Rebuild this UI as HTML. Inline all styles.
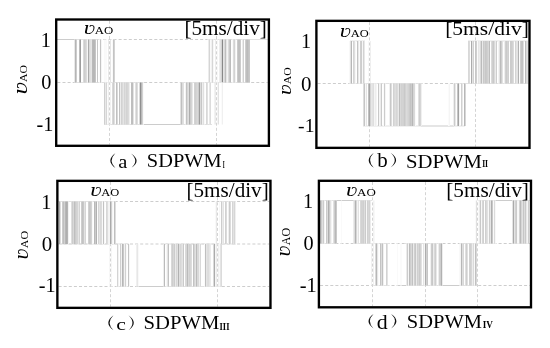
<!DOCTYPE html>
<html><head><meta charset="utf-8"><style>
html,body{margin:0;padding:0;background:#fff;}
svg{display:block;}
text{font-family:"Liberation Serif",serif;fill:#000;}
.it{font-style:italic;}
</style></head><body>
<svg width="550" height="348" viewBox="0 0 550 348" shape-rendering="crispEdges">
<rect width="550" height="348" fill="#fff"/>
<g shape-rendering="auto">
<line x1="57.4" y1="39.5" x2="267.7" y2="39.5" stroke="#cdcdcd" stroke-width="1" stroke-dasharray="3 2.1"/>
<line x1="57.4" y1="82.5" x2="267.7" y2="82.5" stroke="#cdcdcd" stroke-width="1" stroke-dasharray="3 2.1"/>
<line x1="109.5" y1="20.7" x2="109.5" y2="144.6" stroke="#d4d4d4" stroke-width="1" stroke-dasharray="3 2.1"/>
<line x1="216.5" y1="20.7" x2="216.5" y2="144.6" stroke="#d4d4d4" stroke-width="1" stroke-dasharray="3 2.1"/>
<rect x="57" y="39.0" width="18.0" height="1" fill="#cccccc"/>
<rect x="75" y="39.0" width="26.0" height="1" fill="#e2e2e2"/>
<rect x="113" y="39.0" width="1.5" height="1" fill="#e2e2e2"/>
<rect x="207" y="39.0" width="43.0" height="1" fill="#e2e2e2"/>
<rect x="250" y="39.0" width="18.0" height="1" fill="#e2e2e2"/>
<rect x="75" y="82.0" width="69.0" height="1" fill="#e2e2e2"/>
<rect x="181" y="82.0" width="69.0" height="1" fill="#e2e2e2"/>
<rect x="104" y="124.0" width="40.0" height="1" fill="#e2e2e2"/>
<rect x="144" y="124.0" width="37.0" height="1" fill="#cccccc"/>
<rect x="181" y="124.0" width="31.0" height="1" fill="#e2e2e2"/>
<rect x="74" y="39.5" width="1" height="43.0" fill="#e9e9e9"/>
<rect x="75" y="39.5" width="1" height="43.0" fill="#b5b5b5"/>
<rect x="76" y="39.5" width="1" height="43.0" fill="#cdcdcd"/>
<rect x="79" y="39.5" width="1" height="43.0" fill="#bcbcbc"/>
<rect x="80" y="39.5" width="1" height="43.0" fill="#9d9d9d"/>
<rect x="83" y="39.5" width="1" height="43.0" fill="#dbdbdb"/>
<rect x="84" y="39.5" width="1" height="43.0" fill="#cdcdcd"/>
<rect x="85" y="39.5" width="1" height="43.0" fill="#d3d3d3"/>
<rect x="86" y="39.5" width="1" height="43.0" fill="#dcdcdc"/>
<rect x="87" y="39.5" width="1" height="43.0" fill="#f6f6f6"/>
<rect x="88" y="39.5" width="1" height="43.0" fill="#aaaaaa"/>
<rect x="89" y="39.5" width="1" height="43.0" fill="#d9d9d9"/>
<rect x="90" y="39.5" width="1" height="43.0" fill="#e1e1e1"/>
<rect x="91" y="39.5" width="1" height="43.0" fill="#e5e5e5"/>
<rect x="92" y="39.5" width="1" height="43.0" fill="#bababa"/>
<rect x="93" y="39.5" width="1" height="43.0" fill="#b7b7b7"/>
<rect x="94" y="39.5" width="1" height="43.0" fill="#b8b8b8"/>
<rect x="95" y="39.5" width="1" height="43.0" fill="#c6c6c6"/>
<rect x="97" y="39.5" width="1" height="43.0" fill="#c7c7c7"/>
<rect x="99" y="39.5" width="1" height="43.0" fill="#fbfbfb"/>
<rect x="100" y="39.5" width="1" height="43.0" fill="#c4c4c4"/>
<rect x="101" y="39.5" width="1" height="43.0" fill="#f5f5f5"/>
<rect x="104" y="39.5" width="1" height="43.0" fill="#f9f9f9"/>
<rect x="105" y="39.5" width="2" height="43.0" fill="#fafafa"/>
<rect x="108" y="39.5" width="1" height="43.0" fill="#eaeaea"/>
<rect x="110" y="39.5" width="1" height="43.0" fill="#e6e6e6"/>
<rect x="112" y="39.5" width="1" height="43.0" fill="#fafafa"/>
<rect x="113" y="39.5" width="1" height="43.0" fill="#c4c4c4"/>
<rect x="114" y="39.5" width="1" height="43.0" fill="#d3d3d3"/>
<rect x="208" y="39.5" width="1" height="43.0" fill="#ececec"/>
<rect x="209" y="39.5" width="1" height="43.0" fill="#d5d5d5"/>
<rect x="210" y="39.5" width="1" height="43.0" fill="#fafafa"/>
<rect x="211" y="39.5" width="1" height="43.0" fill="#f1f1f1"/>
<rect x="212" y="39.5" width="1" height="43.0" fill="#d6d6d6"/>
<rect x="213" y="39.5" width="1" height="43.0" fill="#f7f7f7"/>
<rect x="215" y="39.5" width="1" height="43.0" fill="#ededed"/>
<rect x="217" y="39.5" width="1" height="43.0" fill="#f7f7f7"/>
<rect x="219" y="39.5" width="1" height="43.0" fill="#ececec"/>
<rect x="220" y="39.5" width="1" height="43.0" fill="#e3e3e3"/>
<rect x="221" y="39.5" width="1" height="43.0" fill="#d4d4d4"/>
<rect x="222" y="39.5" width="1" height="43.0" fill="#898989"/>
<rect x="223" y="39.5" width="1" height="43.0" fill="#e4e4e4"/>
<rect x="224" y="39.5" width="1" height="43.0" fill="#dadada"/>
<rect x="225" y="39.5" width="1" height="43.0" fill="#bfbfbf"/>
<rect x="226" y="39.5" width="1" height="43.0" fill="#e7e7e7"/>
<rect x="227" y="39.5" width="1" height="43.0" fill="#f5f5f5"/>
<rect x="228" y="39.5" width="1" height="43.0" fill="#dcdcdc"/>
<rect x="229" y="39.5" width="1" height="43.0" fill="#c9c9c9"/>
<rect x="230" y="39.5" width="1" height="43.0" fill="#bdbdbd"/>
<rect x="232" y="39.5" width="1" height="43.0" fill="#fbfbfb"/>
<rect x="233" y="39.5" width="1" height="43.0" fill="#dddddd"/>
<rect x="234" y="39.5" width="1" height="43.0" fill="#d3d3d3"/>
<rect x="235" y="39.5" width="1" height="43.0" fill="#f3f3f3"/>
<rect x="237" y="39.5" width="1" height="43.0" fill="#cccccc"/>
<rect x="238" y="39.5" width="1" height="43.0" fill="#c0c0c0"/>
<rect x="239" y="39.5" width="1" height="43.0" fill="#c0c0c0"/>
<rect x="240" y="39.5" width="1" height="43.0" fill="#cccccc"/>
<rect x="242" y="39.5" width="1" height="43.0" fill="#ececec"/>
<rect x="243" y="39.5" width="1" height="43.0" fill="#d2d2d2"/>
<rect x="245" y="39.5" width="1" height="43.0" fill="#cfcfcf"/>
<rect x="246" y="39.5" width="1" height="43.0" fill="#bfbfbf"/>
<rect x="247" y="39.5" width="1" height="43.0" fill="#bbbbbb"/>
<rect x="248" y="39.5" width="1" height="43.0" fill="#c3c3c3"/>
<rect x="249" y="39.5" width="1" height="43.0" fill="#c7c7c7"/>
<rect x="104" y="82.5" width="1" height="42.0" fill="#cfcfcf"/>
<rect x="105" y="82.5" width="1" height="42.0" fill="#e8e8e8"/>
<rect x="106" y="82.5" width="1" height="42.0" fill="#d6d6d6"/>
<rect x="107" y="82.5" width="1" height="42.0" fill="#fbfbfb"/>
<rect x="108" y="82.5" width="1" height="42.0" fill="#efefef"/>
<rect x="110" y="82.5" width="1" height="42.0" fill="#f2f2f2"/>
<rect x="112" y="82.5" width="1" height="42.0" fill="#d9d9d9"/>
<rect x="113" y="82.5" width="1" height="42.0" fill="#cdcdcd"/>
<rect x="114" y="82.5" width="1" height="42.0" fill="#e1e1e1"/>
<rect x="116" y="82.5" width="1" height="42.0" fill="#c0c0c0"/>
<rect x="117" y="82.5" width="1" height="42.0" fill="#d9d9d9"/>
<rect x="119" y="82.5" width="1" height="42.0" fill="#c2c2c2"/>
<rect x="120" y="82.5" width="1" height="42.0" fill="#ededed"/>
<rect x="121" y="82.5" width="1" height="42.0" fill="#d2d2d2"/>
<rect x="122" y="82.5" width="1" height="42.0" fill="#dadada"/>
<rect x="123" y="82.5" width="1" height="42.0" fill="#e5e5e5"/>
<rect x="124" y="82.5" width="1" height="42.0" fill="#d5d5d5"/>
<rect x="125" y="82.5" width="1" height="42.0" fill="#dddddd"/>
<rect x="126" y="82.5" width="1" height="42.0" fill="#d3d3d3"/>
<rect x="127" y="82.5" width="1" height="42.0" fill="#d6d6d6"/>
<rect x="128" y="82.5" width="1" height="42.0" fill="#dbdbdb"/>
<rect x="129" y="82.5" width="1" height="42.0" fill="#eeeeee"/>
<rect x="131" y="82.5" width="1" height="42.0" fill="#bebebe"/>
<rect x="132" y="82.5" width="1" height="42.0" fill="#bdbdbd"/>
<rect x="133" y="82.5" width="1" height="42.0" fill="#e3e3e3"/>
<rect x="135" y="82.5" width="1" height="42.0" fill="#e2e2e2"/>
<rect x="136" y="82.5" width="1" height="42.0" fill="#cfcfcf"/>
<rect x="137" y="82.5" width="1" height="42.0" fill="#dedede"/>
<rect x="139" y="82.5" width="1" height="42.0" fill="#dadada"/>
<rect x="140" y="82.5" width="1" height="42.0" fill="#909090"/>
<rect x="141" y="82.5" width="1" height="42.0" fill="#b9b9b9"/>
<rect x="142" y="82.5" width="1" height="42.0" fill="#d2d2d2"/>
<rect x="143" y="82.5" width="1" height="42.0" fill="#fafafa"/>
<rect x="180" y="82.5" width="1" height="42.0" fill="#e1e1e1"/>
<rect x="181" y="82.5" width="1" height="42.0" fill="#bfbfbf"/>
<rect x="182" y="82.5" width="1" height="42.0" fill="#dcdcdc"/>
<rect x="183" y="82.5" width="1" height="42.0" fill="#e1e1e1"/>
<rect x="185" y="82.5" width="1" height="42.0" fill="#f4f4f4"/>
<rect x="186" y="82.5" width="1" height="42.0" fill="#c2c2c2"/>
<rect x="187" y="82.5" width="1" height="42.0" fill="#d6d6d6"/>
<rect x="188" y="82.5" width="1" height="42.0" fill="#dedede"/>
<rect x="189" y="82.5" width="1" height="42.0" fill="#adadad"/>
<rect x="190" y="82.5" width="1" height="42.0" fill="#cccccc"/>
<rect x="191" y="82.5" width="1" height="42.0" fill="#d5d5d5"/>
<rect x="192" y="82.5" width="1" height="42.0" fill="#e8e8e8"/>
<rect x="194" y="82.5" width="1" height="42.0" fill="#d3d3d3"/>
<rect x="195" y="82.5" width="1" height="42.0" fill="#cfcfcf"/>
<rect x="196" y="82.5" width="1" height="42.0" fill="#d4d4d4"/>
<rect x="197" y="82.5" width="1" height="42.0" fill="#d8d8d8"/>
<rect x="198" y="82.5" width="1" height="42.0" fill="#cccccc"/>
<rect x="199" y="82.5" width="1" height="42.0" fill="#9d9d9d"/>
<rect x="200" y="82.5" width="1" height="42.0" fill="#dbdbdb"/>
<rect x="201" y="82.5" width="1" height="42.0" fill="#c6c6c6"/>
<rect x="202" y="82.5" width="1" height="42.0" fill="#eeeeee"/>
<rect x="203" y="82.5" width="1" height="42.0" fill="#e0e0e0"/>
<rect x="204" y="82.5" width="1" height="42.0" fill="#f9f9f9"/>
<rect x="206" y="82.5" width="1" height="42.0" fill="#d8d8d8"/>
<rect x="207" y="82.5" width="1" height="42.0" fill="#e1e1e1"/>
<rect x="209" y="82.5" width="1" height="42.0" fill="#e8e8e8"/>
<rect x="210" y="82.5" width="1" height="42.0" fill="#dcdcdc"/>
<rect x="214" y="82.5" width="1" height="42.0" fill="#f2f2f2"/>
<rect x="215" y="82.5" width="1" height="42.0" fill="#ebebeb"/>
<rect x="217" y="82.5" width="1" height="42.0" fill="#f4f4f4"/>
<rect x="218" y="82.5" width="1" height="42.0" fill="#e2e2e2"/>
<rect x="221" y="82.5" width="1" height="42.0" fill="#fbfbfb"/>
<rect x="222" y="82.5" width="1" height="42.0" fill="#f0f0f0"/>
<rect x="56.2" y="19.5" width="212.7" height="126.3" fill="none" stroke="#000" stroke-width="2.35"/>
<line x1="317.6" y1="83.5" x2="528.2" y2="83.5" stroke="#cdcdcd" stroke-width="1" stroke-dasharray="3 2.1"/>
<line x1="369.5" y1="22.1" x2="369.5" y2="146.7" stroke="#d4d4d4" stroke-width="1" stroke-dasharray="3 2.1"/>
<line x1="475.5" y1="22.1" x2="475.5" y2="146.7" stroke="#d4d4d4" stroke-width="1" stroke-dasharray="3 2.1"/>
<rect x="350" y="40.5" width="15.0" height="1" fill="#e2e2e2"/>
<rect x="468" y="40.5" width="60.0" height="1" fill="#e2e2e2"/>
<rect x="350" y="83.0" width="71.0" height="1" fill="#e2e2e2"/>
<rect x="454" y="83.0" width="74.0" height="1" fill="#e2e2e2"/>
<rect x="363" y="125.5" width="58.0" height="1" fill="#e2e2e2"/>
<rect x="421" y="125.5" width="33.0" height="1" fill="#cccccc"/>
<rect x="454" y="125.5" width="11.0" height="1" fill="#e2e2e2"/>
<rect x="349" y="41.0" width="1" height="42.5" fill="#f8f8f8"/>
<rect x="350" y="41.0" width="1" height="42.5" fill="#e1e1e1"/>
<rect x="351" y="41.0" width="1" height="42.5" fill="#b7b7b7"/>
<rect x="353" y="41.0" width="1" height="42.5" fill="#d4d4d4"/>
<rect x="354" y="41.0" width="1" height="42.5" fill="#dfdfdf"/>
<rect x="355" y="41.0" width="1" height="42.5" fill="#f7f7f7"/>
<rect x="357" y="41.0" width="1" height="42.5" fill="#c3c3c3"/>
<rect x="358" y="41.0" width="1" height="42.5" fill="#e8e8e8"/>
<rect x="359" y="41.0" width="1" height="42.5" fill="#fafafa"/>
<rect x="360" y="41.0" width="1" height="42.5" fill="#d0d0d0"/>
<rect x="361" y="41.0" width="1" height="42.5" fill="#cdcdcd"/>
<rect x="362" y="41.0" width="1" height="42.5" fill="#f7f7f7"/>
<rect x="363" y="41.0" width="1" height="42.5" fill="#d2d2d2"/>
<rect x="364" y="41.0" width="1" height="42.5" fill="#e8e8e8"/>
<rect x="368" y="41.0" width="1" height="42.5" fill="#f8f8f8"/>
<rect x="370" y="41.0" width="1" height="42.5" fill="#efefef"/>
<rect x="468" y="41.0" width="1" height="42.5" fill="#d8d8d8"/>
<rect x="469" y="41.0" width="1" height="42.5" fill="#dbdbdb"/>
<rect x="471" y="41.0" width="1" height="42.5" fill="#ababab"/>
<rect x="472" y="41.0" width="1" height="42.5" fill="#e3e3e3"/>
<rect x="473" y="41.0" width="1" height="42.5" fill="#d2d2d2"/>
<rect x="475" y="41.0" width="1" height="42.5" fill="#c7c7c7"/>
<rect x="476" y="41.0" width="1" height="42.5" fill="#cfcfcf"/>
<rect x="477" y="41.0" width="1" height="42.5" fill="#fbfbfb"/>
<rect x="478" y="41.0" width="1" height="42.5" fill="#e5e5e5"/>
<rect x="479" y="41.0" width="1" height="42.5" fill="#ececec"/>
<rect x="480" y="41.0" width="1" height="42.5" fill="#dbdbdb"/>
<rect x="481" y="41.0" width="1" height="42.5" fill="#bbbbbb"/>
<rect x="482" y="41.0" width="1" height="42.5" fill="#eaeaea"/>
<rect x="483" y="41.0" width="1" height="42.5" fill="#c9c9c9"/>
<rect x="484" y="41.0" width="1" height="42.5" fill="#d3d3d3"/>
<rect x="485" y="41.0" width="1" height="42.5" fill="#c8c8c8"/>
<rect x="486" y="41.0" width="1" height="42.5" fill="#cbcbcb"/>
<rect x="487" y="41.0" width="1" height="42.5" fill="#d0d0d0"/>
<rect x="488" y="41.0" width="1" height="42.5" fill="#d8d8d8"/>
<rect x="489" y="41.0" width="1" height="42.5" fill="#bdbdbd"/>
<rect x="491" y="41.0" width="1" height="42.5" fill="#dbdbdb"/>
<rect x="492" y="41.0" width="1" height="42.5" fill="#cfcfcf"/>
<rect x="493" y="41.0" width="1" height="42.5" fill="#c9c9c9"/>
<rect x="494" y="41.0" width="1" height="42.5" fill="#dbdbdb"/>
<rect x="495" y="41.0" width="1" height="42.5" fill="#ebebeb"/>
<rect x="496" y="41.0" width="1" height="42.5" fill="#cecece"/>
<rect x="498" y="41.0" width="1" height="42.5" fill="#f4f4f4"/>
<rect x="499" y="41.0" width="1" height="42.5" fill="#e2e2e2"/>
<rect x="500" y="41.0" width="1" height="42.5" fill="#bbbbbb"/>
<rect x="501" y="41.0" width="1" height="42.5" fill="#cecece"/>
<rect x="502" y="41.0" width="1" height="42.5" fill="#e2e2e2"/>
<rect x="504" y="41.0" width="1" height="42.5" fill="#efefef"/>
<rect x="505" y="41.0" width="1" height="42.5" fill="#d1d1d1"/>
<rect x="506" y="41.0" width="1" height="42.5" fill="#cacaca"/>
<rect x="507" y="41.0" width="1" height="42.5" fill="#d3d3d3"/>
<rect x="508" y="41.0" width="1" height="42.5" fill="#d0d0d0"/>
<rect x="510" y="41.0" width="1" height="42.5" fill="#cccccc"/>
<rect x="511" y="41.0" width="1" height="42.5" fill="#cdcdcd"/>
<rect x="512" y="41.0" width="1" height="42.5" fill="#d2d2d2"/>
<rect x="513" y="41.0" width="1" height="42.5" fill="#dcdcdc"/>
<rect x="515" y="41.0" width="1" height="42.5" fill="#d4d4d4"/>
<rect x="516" y="41.0" width="1" height="42.5" fill="#e3e3e3"/>
<rect x="517" y="41.0" width="1" height="42.5" fill="#e4e4e4"/>
<rect x="518" y="41.0" width="1" height="42.5" fill="#b2b2b2"/>
<rect x="519" y="41.0" width="1" height="42.5" fill="#fcfcfc"/>
<rect x="520" y="41.0" width="1" height="42.5" fill="#cfcfcf"/>
<rect x="521" y="41.0" width="1" height="42.5" fill="#c4c4c4"/>
<rect x="522" y="41.0" width="1" height="42.5" fill="#c3c3c3"/>
<rect x="523" y="41.0" width="1" height="42.5" fill="#dfdfdf"/>
<rect x="525" y="41.0" width="1" height="42.5" fill="#bcbcbc"/>
<rect x="526" y="41.0" width="1" height="42.5" fill="#dadada"/>
<rect x="527" y="41.0" width="1" height="42.5" fill="#dfdfdf"/>
<rect x="363" y="83.5" width="1" height="42.5" fill="#dfdfdf"/>
<rect x="364" y="83.5" width="1" height="42.5" fill="#c5c5c5"/>
<rect x="365" y="83.5" width="1" height="42.5" fill="#f8f8f8"/>
<rect x="366" y="83.5" width="1" height="42.5" fill="#e4e4e4"/>
<rect x="368" y="83.5" width="1" height="42.5" fill="#c0c0c0"/>
<rect x="369" y="83.5" width="1" height="42.5" fill="#a7a7a7"/>
<rect x="370" y="83.5" width="1" height="42.5" fill="#d4d4d4"/>
<rect x="371" y="83.5" width="1" height="42.5" fill="#e7e7e7"/>
<rect x="372" y="83.5" width="1" height="42.5" fill="#e3e3e3"/>
<rect x="373" y="83.5" width="1" height="42.5" fill="#dedede"/>
<rect x="374" y="83.5" width="1" height="42.5" fill="#f5f5f5"/>
<rect x="375" y="83.5" width="1" height="42.5" fill="#ededed"/>
<rect x="376" y="83.5" width="1" height="42.5" fill="#f5f5f5"/>
<rect x="378" y="83.5" width="1" height="42.5" fill="#c9c9c9"/>
<rect x="379" y="83.5" width="1" height="42.5" fill="#f5f5f5"/>
<rect x="380" y="83.5" width="1" height="42.5" fill="#ececec"/>
<rect x="381" y="83.5" width="1" height="42.5" fill="#cacaca"/>
<rect x="383" y="83.5" width="1" height="42.5" fill="#fbfbfb"/>
<rect x="384" y="83.5" width="1" height="42.5" fill="#cccccc"/>
<rect x="385" y="83.5" width="1" height="42.5" fill="#f5f5f5"/>
<rect x="389" y="83.5" width="1" height="42.5" fill="#f0f0f0"/>
<rect x="390" y="83.5" width="1" height="42.5" fill="#c8c8c8"/>
<rect x="391" y="83.5" width="1" height="42.5" fill="#dedede"/>
<rect x="392" y="83.5" width="1" height="42.5" fill="#fcfcfc"/>
<rect x="393" y="83.5" width="1" height="42.5" fill="#d2d2d2"/>
<rect x="394" y="83.5" width="1" height="42.5" fill="#dadada"/>
<rect x="395" y="83.5" width="1" height="42.5" fill="#dedede"/>
<rect x="396" y="83.5" width="1" height="42.5" fill="#d6d6d6"/>
<rect x="397" y="83.5" width="1" height="42.5" fill="#dbdbdb"/>
<rect x="398" y="83.5" width="1" height="42.5" fill="#e9e9e9"/>
<rect x="399" y="83.5" width="1" height="42.5" fill="#bdbdbd"/>
<rect x="400" y="83.5" width="1" height="42.5" fill="#d9d9d9"/>
<rect x="401" y="83.5" width="1" height="42.5" fill="#d1d1d1"/>
<rect x="402" y="83.5" width="1" height="42.5" fill="#d3d3d3"/>
<rect x="403" y="83.5" width="1" height="42.5" fill="#d1d1d1"/>
<rect x="404" y="83.5" width="1" height="42.5" fill="#c9c9c9"/>
<rect x="405" y="83.5" width="1" height="42.5" fill="#d2d2d2"/>
<rect x="406" y="83.5" width="1" height="42.5" fill="#dbdbdb"/>
<rect x="407" y="83.5" width="1" height="42.5" fill="#d7d7d7"/>
<rect x="408" y="83.5" width="1" height="42.5" fill="#d3d3d3"/>
<rect x="409" y="83.5" width="1" height="42.5" fill="#cccccc"/>
<rect x="410" y="83.5" width="1" height="42.5" fill="#c3c3c3"/>
<rect x="411" y="83.5" width="1" height="42.5" fill="#cbcbcb"/>
<rect x="412" y="83.5" width="1" height="42.5" fill="#b6b6b6"/>
<rect x="413" y="83.5" width="1" height="42.5" fill="#d5d5d5"/>
<rect x="414" y="83.5" width="1" height="42.5" fill="#d9d9d9"/>
<rect x="415" y="83.5" width="1" height="42.5" fill="#fafafa"/>
<rect x="418" y="83.5" width="1" height="42.5" fill="#e1e1e1"/>
<rect x="419" y="83.5" width="1" height="42.5" fill="#cecece"/>
<rect x="420" y="83.5" width="1" height="42.5" fill="#d6d6d6"/>
<rect x="421" y="83.5" width="1" height="42.5" fill="#f0f0f0"/>
<rect x="448" y="83.5" width="1" height="42.5" fill="#fbfbfb"/>
<rect x="449" y="83.5" width="1" height="42.5" fill="#f5f5f5"/>
<rect x="453" y="83.5" width="1" height="42.5" fill="#efefef"/>
<rect x="454" y="83.5" width="1" height="42.5" fill="#cccccc"/>
<rect x="455" y="83.5" width="1" height="42.5" fill="#e9e9e9"/>
<rect x="457" y="83.5" width="1" height="42.5" fill="#c6c6c6"/>
<rect x="458" y="83.5" width="1" height="42.5" fill="#a3a3a3"/>
<rect x="459" y="83.5" width="1" height="42.5" fill="#f4f4f4"/>
<rect x="461" y="83.5" width="1" height="42.5" fill="#d0d0d0"/>
<rect x="462" y="83.5" width="1" height="42.5" fill="#e7e7e7"/>
<rect x="464" y="83.5" width="1" height="42.5" fill="#b7b7b7"/>
<rect x="465" y="83.5" width="1" height="42.5" fill="#d7d7d7"/>
<rect x="316.4" y="20.85" width="213.1" height="127.0" fill="none" stroke="#000" stroke-width="2.35"/>
<line x1="58.6" y1="201.5" x2="269.3" y2="201.5" stroke="#cdcdcd" stroke-width="1" stroke-dasharray="3 2.1"/>
<line x1="58.6" y1="244.0" x2="269.3" y2="244.0" stroke="#cdcdcd" stroke-width="1" stroke-dasharray="3 2.1"/>
<line x1="58.6" y1="286.5" x2="269.3" y2="286.5" stroke="#cdcdcd" stroke-width="1" stroke-dasharray="3 2.1"/>
<line x1="110.5" y1="182.0" x2="110.5" y2="306.7" stroke="#d4d4d4" stroke-width="1" stroke-dasharray="3 2.1"/>
<line x1="217.5" y1="182.0" x2="217.5" y2="306.7" stroke="#d4d4d4" stroke-width="1" stroke-dasharray="3 2.1"/>
<rect x="58" y="201.0" width="58.0" height="1" fill="#e2e2e2"/>
<rect x="220" y="201.0" width="16.0" height="1" fill="#e2e2e2"/>
<rect x="58" y="243.5" width="71.0" height="1" fill="#e2e2e2"/>
<rect x="163" y="243.5" width="73.0" height="1" fill="#e2e2e2"/>
<rect x="116" y="286.0" width="13.0" height="1" fill="#e2e2e2"/>
<rect x="137" y="286.0" width="27.0" height="1" fill="#cccccc"/>
<rect x="164" y="286.0" width="58.0" height="1" fill="#e2e2e2"/>
<rect x="59" y="201.5" width="1" height="42.5" fill="#acacac"/>
<rect x="60" y="201.5" width="1" height="42.5" fill="#dddddd"/>
<rect x="62" y="201.5" width="1" height="42.5" fill="#cdcdcd"/>
<rect x="63" y="201.5" width="1" height="42.5" fill="#c0c0c0"/>
<rect x="64" y="201.5" width="1" height="42.5" fill="#d0d0d0"/>
<rect x="65" y="201.5" width="1" height="42.5" fill="#b7b7b7"/>
<rect x="66" y="201.5" width="1" height="42.5" fill="#aeaeae"/>
<rect x="67" y="201.5" width="1" height="42.5" fill="#b5b5b5"/>
<rect x="68" y="201.5" width="1" height="42.5" fill="#f3f3f3"/>
<rect x="71" y="201.5" width="1" height="42.5" fill="#dfdfdf"/>
<rect x="72" y="201.5" width="1" height="42.5" fill="#cccccc"/>
<rect x="73" y="201.5" width="1" height="42.5" fill="#d8d8d8"/>
<rect x="74" y="201.5" width="1" height="42.5" fill="#bebebe"/>
<rect x="75" y="201.5" width="1" height="42.5" fill="#cccccc"/>
<rect x="76" y="201.5" width="1" height="42.5" fill="#d3d3d3"/>
<rect x="77" y="201.5" width="1" height="42.5" fill="#d5d5d5"/>
<rect x="78" y="201.5" width="1" height="42.5" fill="#e6e6e6"/>
<rect x="79" y="201.5" width="1" height="42.5" fill="#d4d4d4"/>
<rect x="81" y="201.5" width="1" height="42.5" fill="#cecece"/>
<rect x="82" y="201.5" width="1" height="42.5" fill="#c2c2c2"/>
<rect x="83" y="201.5" width="1" height="42.5" fill="#c8c8c8"/>
<rect x="84" y="201.5" width="1" height="42.5" fill="#e3e3e3"/>
<rect x="85" y="201.5" width="1" height="42.5" fill="#d6d6d6"/>
<rect x="88" y="201.5" width="1" height="42.5" fill="#d1d1d1"/>
<rect x="89" y="201.5" width="1" height="42.5" fill="#c6c6c6"/>
<rect x="90" y="201.5" width="1" height="42.5" fill="#cacaca"/>
<rect x="91" y="201.5" width="1" height="42.5" fill="#d4d4d4"/>
<rect x="92" y="201.5" width="1" height="42.5" fill="#f9f9f9"/>
<rect x="94" y="201.5" width="1" height="42.5" fill="#b9b9b9"/>
<rect x="95" y="201.5" width="1" height="42.5" fill="#cbcbcb"/>
<rect x="96" y="201.5" width="1" height="42.5" fill="#b1b1b1"/>
<rect x="97" y="201.5" width="1" height="42.5" fill="#fcfcfc"/>
<rect x="98" y="201.5" width="1" height="42.5" fill="#d5d5d5"/>
<rect x="99" y="201.5" width="1" height="42.5" fill="#e4e4e4"/>
<rect x="100" y="201.5" width="1" height="42.5" fill="#d9d9d9"/>
<rect x="101" y="201.5" width="1" height="42.5" fill="#dcdcdc"/>
<rect x="102" y="201.5" width="1" height="42.5" fill="#f9f9f9"/>
<rect x="103" y="201.5" width="1" height="42.5" fill="#c3c3c3"/>
<rect x="104" y="201.5" width="1" height="42.5" fill="#f8f8f8"/>
<rect x="106" y="201.5" width="1" height="42.5" fill="#d7d7d7"/>
<rect x="107" y="201.5" width="1" height="42.5" fill="#dedede"/>
<rect x="108" y="201.5" width="1" height="42.5" fill="#f3f3f3"/>
<rect x="109" y="201.5" width="1" height="42.5" fill="#f4f4f4"/>
<rect x="110" y="201.5" width="1" height="42.5" fill="#aaaaaa"/>
<rect x="111" y="201.5" width="1" height="42.5" fill="#d0d0d0"/>
<rect x="112" y="201.5" width="1" height="42.5" fill="#f5f5f5"/>
<rect x="113" y="201.5" width="1" height="42.5" fill="#fcfcfc"/>
<rect x="114" y="201.5" width="1" height="42.5" fill="#bfbfbf"/>
<rect x="115" y="201.5" width="1" height="42.5" fill="#dedede"/>
<rect x="215" y="201.5" width="1" height="42.5" fill="#f9f9f9"/>
<rect x="216" y="201.5" width="1" height="42.5" fill="#e8e8e8"/>
<rect x="219" y="201.5" width="1" height="42.5" fill="#f7f7f7"/>
<rect x="221" y="201.5" width="1" height="42.5" fill="#cdcdcd"/>
<rect x="222" y="201.5" width="1" height="42.5" fill="#ebebeb"/>
<rect x="223" y="201.5" width="1" height="42.5" fill="#e4e4e4"/>
<rect x="225" y="201.5" width="1" height="42.5" fill="#d1d1d1"/>
<rect x="226" y="201.5" width="1" height="42.5" fill="#dcdcdc"/>
<rect x="228" y="201.5" width="1" height="42.5" fill="#efefef"/>
<rect x="229" y="201.5" width="1" height="42.5" fill="#cbcbcb"/>
<rect x="230" y="201.5" width="1" height="42.5" fill="#dcdcdc"/>
<rect x="232" y="201.5" width="1" height="42.5" fill="#d5d5d5"/>
<rect x="233" y="201.5" width="1" height="42.5" fill="#e3e3e3"/>
<rect x="234" y="201.5" width="1" height="42.5" fill="#d6d6d6"/>
<rect x="235" y="201.5" width="1" height="42.5" fill="#f0f0f0"/>
<rect x="109" y="244.0" width="1" height="42.5" fill="#f7f7f7"/>
<rect x="111" y="244.0" width="1" height="42.5" fill="#f7f7f7"/>
<rect x="117" y="244.0" width="1" height="42.5" fill="#d4d4d4"/>
<rect x="118" y="244.0" width="1" height="42.5" fill="#f2f2f2"/>
<rect x="120" y="244.0" width="1" height="42.5" fill="#d0d0d0"/>
<rect x="121" y="244.0" width="1" height="42.5" fill="#f2f2f2"/>
<rect x="122" y="244.0" width="1" height="42.5" fill="#b6b6b6"/>
<rect x="123" y="244.0" width="1" height="42.5" fill="#c9c9c9"/>
<rect x="124" y="244.0" width="1" height="42.5" fill="#f2f2f2"/>
<rect x="125" y="244.0" width="1" height="42.5" fill="#d1d1d1"/>
<rect x="126" y="244.0" width="1" height="42.5" fill="#f9f9f9"/>
<rect x="128" y="244.0" width="1" height="42.5" fill="#c4c4c4"/>
<rect x="129" y="244.0" width="1" height="42.5" fill="#f6f6f6"/>
<rect x="136" y="244.0" width="1" height="42.5" fill="#f0f0f0"/>
<rect x="137" y="244.0" width="1" height="42.5" fill="#e7e7e7"/>
<rect x="138" y="244.0" width="1" height="42.5" fill="#f9f9f9"/>
<rect x="163" y="244.0" width="1" height="42.5" fill="#eeeeee"/>
<rect x="164" y="244.0" width="1" height="42.5" fill="#bbbbbb"/>
<rect x="166" y="244.0" width="1" height="42.5" fill="#f7f7f7"/>
<rect x="167" y="244.0" width="1" height="42.5" fill="#e3e3e3"/>
<rect x="168" y="244.0" width="1" height="42.5" fill="#c2c2c2"/>
<rect x="171" y="244.0" width="1" height="42.5" fill="#d9d9d9"/>
<rect x="172" y="244.0" width="1" height="42.5" fill="#cecece"/>
<rect x="173" y="244.0" width="1" height="42.5" fill="#d7d7d7"/>
<rect x="174" y="244.0" width="1" height="42.5" fill="#cccccc"/>
<rect x="175" y="244.0" width="1" height="42.5" fill="#eaeaea"/>
<rect x="176" y="244.0" width="1" height="42.5" fill="#d7d7d7"/>
<rect x="177" y="244.0" width="1" height="42.5" fill="#e1e1e1"/>
<rect x="178" y="244.0" width="1" height="42.5" fill="#b2b2b2"/>
<rect x="179" y="244.0" width="1" height="42.5" fill="#dfdfdf"/>
<rect x="180" y="244.0" width="1" height="42.5" fill="#d7d7d7"/>
<rect x="181" y="244.0" width="1" height="42.5" fill="#dedede"/>
<rect x="182" y="244.0" width="1" height="42.5" fill="#e4e4e4"/>
<rect x="183" y="244.0" width="1" height="42.5" fill="#cacaca"/>
<rect x="185" y="244.0" width="1" height="42.5" fill="#dadada"/>
<rect x="186" y="244.0" width="1" height="42.5" fill="#d6d6d6"/>
<rect x="187" y="244.0" width="1" height="42.5" fill="#bbbbbb"/>
<rect x="188" y="244.0" width="1" height="42.5" fill="#d8d8d8"/>
<rect x="189" y="244.0" width="1" height="42.5" fill="#d0d0d0"/>
<rect x="190" y="244.0" width="1" height="42.5" fill="#d6d6d6"/>
<rect x="191" y="244.0" width="1" height="42.5" fill="#dddddd"/>
<rect x="193" y="244.0" width="1" height="42.5" fill="#c3c3c3"/>
<rect x="194" y="244.0" width="1" height="42.5" fill="#d5d5d5"/>
<rect x="195" y="244.0" width="1" height="42.5" fill="#e1e1e1"/>
<rect x="196" y="244.0" width="1" height="42.5" fill="#bbbbbb"/>
<rect x="197" y="244.0" width="1" height="42.5" fill="#d9d9d9"/>
<rect x="198" y="244.0" width="1" height="42.5" fill="#d9d9d9"/>
<rect x="199" y="244.0" width="1" height="42.5" fill="#f0f0f0"/>
<rect x="200" y="244.0" width="1" height="42.5" fill="#d9d9d9"/>
<rect x="204" y="244.0" width="1" height="42.5" fill="#fbfbfb"/>
<rect x="205" y="244.0" width="1" height="42.5" fill="#bfbfbf"/>
<rect x="206" y="244.0" width="1" height="42.5" fill="#e5e5e5"/>
<rect x="207" y="244.0" width="1" height="42.5" fill="#dedede"/>
<rect x="208" y="244.0" width="1" height="42.5" fill="#dddddd"/>
<rect x="209" y="244.0" width="1" height="42.5" fill="#e6e6e6"/>
<rect x="210" y="244.0" width="1" height="42.5" fill="#ececec"/>
<rect x="213" y="244.0" width="1" height="42.5" fill="#dbdbdb"/>
<rect x="214" y="244.0" width="1" height="42.5" fill="#ababab"/>
<rect x="215" y="244.0" width="1" height="42.5" fill="#f5f5f5"/>
<rect x="216" y="244.0" width="1" height="42.5" fill="#ececec"/>
<rect x="218" y="244.0" width="1" height="42.5" fill="#f0f0f0"/>
<rect x="219" y="244.0" width="1" height="42.5" fill="#f8f8f8"/>
<rect x="220" y="244.0" width="1" height="42.5" fill="#e4e4e4"/>
<rect x="221" y="244.0" width="1" height="42.5" fill="#dbdbdb"/>
<rect x="57.37" y="180.85" width="213.1" height="127.0" fill="none" stroke="#000" stroke-width="2.35"/>
<line x1="320.1" y1="243.5" x2="529.8" y2="243.5" stroke="#cdcdcd" stroke-width="1" stroke-dasharray="3 2.1"/>
<line x1="320.1" y1="285.5" x2="529.8" y2="285.5" stroke="#cdcdcd" stroke-width="1" stroke-dasharray="3 2.1"/>
<line x1="372.5" y1="182.0" x2="372.5" y2="306.1" stroke="#d4d4d4" stroke-width="1" stroke-dasharray="3 2.1"/>
<line x1="425.5" y1="182.0" x2="425.5" y2="306.1" stroke="#d4d4d4" stroke-width="1" stroke-dasharray="3 2.1"/>
<line x1="477.5" y1="182.0" x2="477.5" y2="306.1" stroke="#d4d4d4" stroke-width="1" stroke-dasharray="3 2.1"/>
<rect x="320" y="200.0" width="17.0" height="1" fill="#e2e2e2"/>
<rect x="337" y="200.0" width="17.0" height="1" fill="#cccccc"/>
<rect x="354" y="200.0" width="18.0" height="1" fill="#e2e2e2"/>
<rect x="478" y="200.0" width="17.0" height="1" fill="#e2e2e2"/>
<rect x="495" y="200.0" width="17.0" height="1" fill="#cccccc"/>
<rect x="512" y="200.0" width="18.0" height="1" fill="#e2e2e2"/>
<rect x="320" y="243.0" width="17.0" height="1" fill="#e2e2e2"/>
<rect x="354" y="243.0" width="36.0" height="1" fill="#e2e2e2"/>
<rect x="405" y="243.0" width="37.0" height="1" fill="#e2e2e2"/>
<rect x="460" y="243.0" width="36.0" height="1" fill="#e2e2e2"/>
<rect x="511" y="243.0" width="18.0" height="1" fill="#e2e2e2"/>
<rect x="373" y="285.0" width="16.0" height="1" fill="#e2e2e2"/>
<rect x="397" y="285.0" width="9.0" height="1" fill="#cccccc"/>
<rect x="406" y="285.0" width="35.0" height="1" fill="#e2e2e2"/>
<rect x="441" y="285.0" width="19.0" height="1" fill="#cccccc"/>
<rect x="460" y="285.0" width="17.0" height="1" fill="#e2e2e2"/>
<rect x="320" y="200.5" width="1" height="43.0" fill="#afafaf"/>
<rect x="321" y="200.5" width="1" height="43.0" fill="#cccccc"/>
<rect x="322" y="200.5" width="1" height="43.0" fill="#e0e0e0"/>
<rect x="323" y="200.5" width="1" height="43.0" fill="#cdcdcd"/>
<rect x="324" y="200.5" width="1" height="43.0" fill="#f4f4f4"/>
<rect x="326" y="200.5" width="1" height="43.0" fill="#cbcbcb"/>
<rect x="327" y="200.5" width="1" height="43.0" fill="#dcdcdc"/>
<rect x="328" y="200.5" width="1" height="43.0" fill="#afafaf"/>
<rect x="329" y="200.5" width="1" height="43.0" fill="#c9c9c9"/>
<rect x="330" y="200.5" width="1" height="43.0" fill="#e3e3e3"/>
<rect x="331" y="200.5" width="1" height="43.0" fill="#f5f5f5"/>
<rect x="333" y="200.5" width="1" height="43.0" fill="#e2e2e2"/>
<rect x="334" y="200.5" width="1" height="43.0" fill="#cdcdcd"/>
<rect x="335" y="200.5" width="1" height="43.0" fill="#b8b8b8"/>
<rect x="336" y="200.5" width="1" height="43.0" fill="#cacaca"/>
<rect x="341" y="200.5" width="1" height="43.0" fill="#fafafa"/>
<rect x="353" y="200.5" width="1" height="43.0" fill="#ececec"/>
<rect x="354" y="200.5" width="1" height="43.0" fill="#dcdcdc"/>
<rect x="355" y="200.5" width="1" height="43.0" fill="#b2b2b2"/>
<rect x="356" y="200.5" width="1" height="43.0" fill="#d7d7d7"/>
<rect x="357" y="200.5" width="1" height="43.0" fill="#f4f4f4"/>
<rect x="358" y="200.5" width="1" height="43.0" fill="#e3e3e3"/>
<rect x="360" y="200.5" width="1" height="43.0" fill="#d9d9d9"/>
<rect x="361" y="200.5" width="1" height="43.0" fill="#d2d2d2"/>
<rect x="362" y="200.5" width="1" height="43.0" fill="#d3d3d3"/>
<rect x="363" y="200.5" width="1" height="43.0" fill="#cfcfcf"/>
<rect x="364" y="200.5" width="1" height="43.0" fill="#dedede"/>
<rect x="365" y="200.5" width="1" height="43.0" fill="#cbcbcb"/>
<rect x="366" y="200.5" width="1" height="43.0" fill="#f8f8f8"/>
<rect x="367" y="200.5" width="1" height="43.0" fill="#d1d1d1"/>
<rect x="368" y="200.5" width="1" height="43.0" fill="#d7d7d7"/>
<rect x="369" y="200.5" width="1" height="43.0" fill="#d2d2d2"/>
<rect x="370" y="200.5" width="1" height="43.0" fill="#ececec"/>
<rect x="373" y="200.5" width="1" height="43.0" fill="#f2f2f2"/>
<rect x="374" y="200.5" width="1" height="43.0" fill="#f8f8f8"/>
<rect x="475" y="200.5" width="1" height="43.0" fill="#fafafa"/>
<rect x="476" y="200.5" width="1" height="43.0" fill="#e1e1e1"/>
<rect x="478" y="200.5" width="1" height="43.0" fill="#fafafa"/>
<rect x="479" y="200.5" width="1" height="43.0" fill="#ebebeb"/>
<rect x="480" y="200.5" width="1" height="43.0" fill="#c9c9c9"/>
<rect x="481" y="200.5" width="1" height="43.0" fill="#f8f8f8"/>
<rect x="482" y="200.5" width="1" height="43.0" fill="#d7d7d7"/>
<rect x="483" y="200.5" width="1" height="43.0" fill="#d0d0d0"/>
<rect x="485" y="200.5" width="1" height="43.0" fill="#d0d0d0"/>
<rect x="486" y="200.5" width="1" height="43.0" fill="#dadada"/>
<rect x="487" y="200.5" width="1" height="43.0" fill="#e2e2e2"/>
<rect x="488" y="200.5" width="1" height="43.0" fill="#f9f9f9"/>
<rect x="489" y="200.5" width="1" height="43.0" fill="#cccccc"/>
<rect x="490" y="200.5" width="1" height="43.0" fill="#e5e5e5"/>
<rect x="491" y="200.5" width="1" height="43.0" fill="#afafaf"/>
<rect x="492" y="200.5" width="1" height="43.0" fill="#c9c9c9"/>
<rect x="493" y="200.5" width="1" height="43.0" fill="#fafafa"/>
<rect x="494" y="200.5" width="1" height="43.0" fill="#dbdbdb"/>
<rect x="495" y="200.5" width="1" height="43.0" fill="#f8f8f8"/>
<rect x="512" y="200.5" width="1" height="43.0" fill="#e4e4e4"/>
<rect x="513" y="200.5" width="1" height="43.0" fill="#aaaaaa"/>
<rect x="514" y="200.5" width="1" height="43.0" fill="#e3e3e3"/>
<rect x="515" y="200.5" width="1" height="43.0" fill="#d2d2d2"/>
<rect x="516" y="200.5" width="1" height="43.0" fill="#cbcbcb"/>
<rect x="517" y="200.5" width="1" height="43.0" fill="#f8f8f8"/>
<rect x="518" y="200.5" width="1" height="43.0" fill="#f9f9f9"/>
<rect x="519" y="200.5" width="1" height="43.0" fill="#d4d4d4"/>
<rect x="520" y="200.5" width="1" height="43.0" fill="#bababa"/>
<rect x="521" y="200.5" width="1" height="43.0" fill="#d6d6d6"/>
<rect x="522" y="200.5" width="1" height="43.0" fill="#e2e2e2"/>
<rect x="523" y="200.5" width="1" height="43.0" fill="#c6c6c6"/>
<rect x="524" y="200.5" width="1" height="43.0" fill="#dcdcdc"/>
<rect x="525" y="200.5" width="1" height="43.0" fill="#c9c9c9"/>
<rect x="526" y="200.5" width="1" height="43.0" fill="#e9e9e9"/>
<rect x="527" y="200.5" width="1" height="43.0" fill="#f6f6f6"/>
<rect x="528" y="200.5" width="1" height="43.0" fill="#cecece"/>
<rect x="371" y="243.5" width="1" height="42.0" fill="#f1f1f1"/>
<rect x="373" y="243.5" width="1" height="42.0" fill="#f1f1f1"/>
<rect x="375" y="243.5" width="1" height="42.0" fill="#dadada"/>
<rect x="376" y="243.5" width="1" height="42.0" fill="#b7b7b7"/>
<rect x="377" y="243.5" width="1" height="42.0" fill="#e7e7e7"/>
<rect x="378" y="243.5" width="1" height="42.0" fill="#fbfbfb"/>
<rect x="380" y="243.5" width="1" height="42.0" fill="#c4c4c4"/>
<rect x="381" y="243.5" width="1" height="42.0" fill="#dcdcdc"/>
<rect x="382" y="243.5" width="1" height="42.0" fill="#c1c1c1"/>
<rect x="383" y="243.5" width="1" height="42.0" fill="#f0f0f0"/>
<rect x="386" y="243.5" width="1" height="42.0" fill="#d3d3d3"/>
<rect x="387" y="243.5" width="1" height="42.0" fill="#e3e3e3"/>
<rect x="397" y="243.5" width="1" height="42.0" fill="#fafafa"/>
<rect x="400" y="243.5" width="1" height="42.0" fill="#fbfbfb"/>
<rect x="401" y="243.5" width="1" height="42.0" fill="#fbfbfb"/>
<rect x="406" y="243.5" width="1" height="42.0" fill="#ebebeb"/>
<rect x="407" y="243.5" width="1" height="42.0" fill="#cccccc"/>
<rect x="408" y="243.5" width="1" height="42.0" fill="#f5f5f5"/>
<rect x="409" y="243.5" width="1" height="42.0" fill="#bbbbbb"/>
<rect x="410" y="243.5" width="1" height="42.0" fill="#cfcfcf"/>
<rect x="411" y="243.5" width="1" height="42.0" fill="#d8d8d8"/>
<rect x="412" y="243.5" width="1" height="42.0" fill="#c1c1c1"/>
<rect x="413" y="243.5" width="1" height="42.0" fill="#ebebeb"/>
<rect x="414" y="243.5" width="1" height="42.0" fill="#d0d0d0"/>
<rect x="415" y="243.5" width="1" height="42.0" fill="#c7c7c7"/>
<rect x="416" y="243.5" width="1" height="42.0" fill="#eaeaea"/>
<rect x="417" y="243.5" width="1" height="42.0" fill="#d0d0d0"/>
<rect x="418" y="243.5" width="1" height="42.0" fill="#d7d7d7"/>
<rect x="419" y="243.5" width="1" height="42.0" fill="#cacaca"/>
<rect x="420" y="243.5" width="1" height="42.0" fill="#d3d3d3"/>
<rect x="421" y="243.5" width="1" height="42.0" fill="#e2e2e2"/>
<rect x="423" y="243.5" width="1" height="42.0" fill="#e4e4e4"/>
<rect x="424" y="243.5" width="1" height="42.0" fill="#f6f6f6"/>
<rect x="425" y="243.5" width="1" height="42.0" fill="#adadad"/>
<rect x="426" y="243.5" width="1" height="42.0" fill="#d0d0d0"/>
<rect x="427" y="243.5" width="1" height="42.0" fill="#c6c6c6"/>
<rect x="430" y="243.5" width="1" height="42.0" fill="#f2f2f2"/>
<rect x="431" y="243.5" width="1" height="42.0" fill="#cdcdcd"/>
<rect x="432" y="243.5" width="1" height="42.0" fill="#c7c7c7"/>
<rect x="433" y="243.5" width="1" height="42.0" fill="#ececec"/>
<rect x="434" y="243.5" width="1" height="42.0" fill="#d9d9d9"/>
<rect x="435" y="243.5" width="1" height="42.0" fill="#cecece"/>
<rect x="436" y="243.5" width="1" height="42.0" fill="#e9e9e9"/>
<rect x="438" y="243.5" width="1" height="42.0" fill="#ededed"/>
<rect x="439" y="243.5" width="1" height="42.0" fill="#d0d0d0"/>
<rect x="440" y="243.5" width="1" height="42.0" fill="#cdcdcd"/>
<rect x="441" y="243.5" width="1" height="42.0" fill="#b1b1b1"/>
<rect x="442" y="243.5" width="1" height="42.0" fill="#ededed"/>
<rect x="459" y="243.5" width="1" height="42.0" fill="#f9f9f9"/>
<rect x="460" y="243.5" width="1" height="42.0" fill="#f4f4f4"/>
<rect x="461" y="243.5" width="1" height="42.0" fill="#b6b6b6"/>
<rect x="462" y="243.5" width="1" height="42.0" fill="#dedede"/>
<rect x="463" y="243.5" width="1" height="42.0" fill="#d8d8d8"/>
<rect x="465" y="243.5" width="1" height="42.0" fill="#dfdfdf"/>
<rect x="466" y="243.5" width="1" height="42.0" fill="#cecece"/>
<rect x="467" y="243.5" width="1" height="42.0" fill="#e0e0e0"/>
<rect x="469" y="243.5" width="1" height="42.0" fill="#d1d1d1"/>
<rect x="470" y="243.5" width="1" height="42.0" fill="#d0d0d0"/>
<rect x="471" y="243.5" width="1" height="42.0" fill="#d7d7d7"/>
<rect x="472" y="243.5" width="1" height="42.0" fill="#ededed"/>
<rect x="473" y="243.5" width="1" height="42.0" fill="#dadada"/>
<rect x="474" y="243.5" width="1" height="42.0" fill="#f9f9f9"/>
<rect x="475" y="243.5" width="1" height="42.0" fill="#c0c0c0"/>
<rect x="476" y="243.5" width="1" height="42.0" fill="#d8d8d8"/>
<rect x="318.9" y="180.8" width="212.1" height="126.5" fill="none" stroke="#000" stroke-width="2.35"/>
</g>
<g shape-rendering="auto" style="opacity:0.999">
<text font-size="20.41" class="it" textLength="12.60" lengthAdjust="spacingAndGlyphs" x="0" y="0" transform="translate(26.55,94.45) rotate(-90)">&#x28b;</text>
<text font-size="10.07" textLength="17.02" lengthAdjust="spacingAndGlyphs" x="0" y="0" transform="translate(26.55,82.00) rotate(-90)">AO</text>
<text font-size="19.28" class="it" textLength="10.72" lengthAdjust="spacingAndGlyphs" x="0" y="0" transform="translate(290.55,95.00) rotate(-90)">&#x28b;</text>
<text font-size="10.65" textLength="16.90" lengthAdjust="spacingAndGlyphs" x="0" y="0" transform="translate(290.55,84.20) rotate(-90)">AO</text>
<text font-size="20.31" class="it" textLength="11.11" lengthAdjust="spacingAndGlyphs" x="0" y="0" transform="translate(28.05,259.45) rotate(-90)">&#x28b;</text>
<text font-size="11.38" textLength="17.42" lengthAdjust="spacingAndGlyphs" x="0" y="0" transform="translate(28.05,248.20) rotate(-90)">AO</text>
<text font-size="20.31" class="it" textLength="11.11" lengthAdjust="spacingAndGlyphs" x="0" y="0" transform="translate(289.55,256.45) rotate(-90)">&#x28b;</text>
<text font-size="11.44" textLength="17.42" lengthAdjust="spacingAndGlyphs" x="0" y="0" transform="translate(289.55,245.20) rotate(-90)">AO</text>
<text font-size="20.30" x="40.65" y="46.60">1</text>
<text font-size="20.23" x="41.27" y="88.75">0</text>
<text font-size="20.23" x="36.55" y="130.80">-1</text>
<text font-size="20.30" x="301.05" y="48.00">1</text>
<text font-size="20.89" x="300.95" y="90.75">0</text>
<text font-size="19.62" x="298.12" y="131.80">-1</text>
<text font-size="20.38" x="41.35" y="209.00">1</text>
<text font-size="20.82" x="41.77" y="251.05">0</text>
<text font-size="20.23" x="38.73" y="292.40">-1</text>
<text font-size="20.30" x="303.05" y="207.90">1</text>
<text font-size="20.23" x="303.40" y="250.05">0</text>
<text font-size="20.45" x="299.75" y="292.00">-1</text>
<text font-size="19.28" class="it" textLength="11.63" lengthAdjust="spacingAndGlyphs" x="83.75" y="34.25">&#x28b;</text>
<text font-size="19.49" class="it" textLength="11.40" lengthAdjust="spacingAndGlyphs" x="339.65" y="37.25">&#x28b;</text>
<text font-size="19.49" class="it" textLength="11.63" lengthAdjust="spacingAndGlyphs" x="90.15" y="196.35">&#x28b;</text>
<text font-size="19.49" class="it" textLength="11.59" lengthAdjust="spacingAndGlyphs" x="346.05" y="196.35">&#x28b;</text>
<text font-size="9.99" textLength="18.52" lengthAdjust="spacingAndGlyphs" x="94.80" y="34.25">AO</text>
<text font-size="9.99" textLength="18.00" lengthAdjust="spacingAndGlyphs" x="350.80" y="37.25">AO</text>
<text font-size="10.28" textLength="17.95" lengthAdjust="spacingAndGlyphs" x="101.20" y="196.35">AO</text>
<text font-size="10.28" textLength="18.72" lengthAdjust="spacingAndGlyphs" x="357.10" y="196.35">AO</text>
<text font-size="21.36" textLength="82.44" lengthAdjust="spacingAndGlyphs" x="184.40" y="34.60">[5ms/div]</text>
<text font-size="19.14" textLength="83.64" lengthAdjust="spacingAndGlyphs" x="445.20" y="34.70">[5ms/div]</text>
<text font-size="21.00" textLength="82.19" lengthAdjust="spacingAndGlyphs" x="186.50" y="196.95">[5ms/div]</text>
<text font-size="21.36" textLength="82.70" lengthAdjust="spacingAndGlyphs" x="446.20" y="196.90">[5ms/div]</text>
<text font-size="19.21" textLength="9.11" lengthAdjust="spacingAndGlyphs" x="118.35" y="167.65">a</text>
<text font-size="18.92" textLength="74.77" lengthAdjust="spacingAndGlyphs" x="146.85" y="167.35">SDPWM</text>
<text font-size="10.28" font-weight="bold" textLength="1.95" lengthAdjust="spacingAndGlyphs" x="222.65" y="167.70">I</text>
<text font-size="20.41" textLength="10.48" lengthAdjust="spacingAndGlyphs" x="377.30" y="167.35">b</text>
<text font-size="18.92" textLength="75.84" lengthAdjust="spacingAndGlyphs" x="406.05" y="167.55">SDPWM</text>
<text font-size="10.28" font-weight="bold" textLength="5.94" lengthAdjust="spacingAndGlyphs" x="482.15" y="166.90">II</text>
<text font-size="17.46" textLength="9.66" lengthAdjust="spacingAndGlyphs" x="116.15" y="329.55">c</text>
<text font-size="19.65" textLength="75.84" lengthAdjust="spacingAndGlyphs" x="143.55" y="329.35">SDPWM</text>
<text font-size="11.03" font-weight="bold" textLength="9.89" lengthAdjust="spacingAndGlyphs" x="219.55" y="329.70">III</text>
<text font-size="20.27" textLength="10.96" lengthAdjust="spacingAndGlyphs" x="376.75" y="328.55">d</text>
<text font-size="19.72" textLength="75.19" lengthAdjust="spacingAndGlyphs" x="406.85" y="328.35">SDPWM</text>
<text font-size="9.94" font-weight="bold" textLength="10.18" lengthAdjust="spacingAndGlyphs" x="482.65" y="327.85">IV</text>
<path d="M115.30 153.30Q105.30 160.70 115.30 168.10Q108.00 160.70 115.30 153.30Z" fill="#111"/>
<path d="M131.00 153.40Q142.20 160.70 131.00 168.00Q139.50 160.70 131.00 153.40Z" fill="#111"/>
<path d="M373.80 152.70Q363.60 160.20 373.80 167.70Q366.30 160.20 373.80 152.70Z" fill="#111"/>
<path d="M390.50 152.70Q401.70 160.10 390.50 167.50Q399.00 160.10 390.50 152.70Z" fill="#111"/>
<path d="M113.50 315.30Q103.10 322.80 113.50 330.30Q105.80 322.80 113.50 315.30Z" fill="#111"/>
<path d="M128.50 315.30Q139.10 322.80 128.50 330.30Q136.40 322.80 128.50 315.30Z" fill="#111"/>
<path d="M373.50 314.10Q363.50 321.30 373.50 328.50Q366.20 321.30 373.50 314.10Z" fill="#111"/>
<path d="M391.20 314.10Q401.60 321.30 391.20 328.50Q398.90 321.30 391.20 314.10Z" fill="#111"/>
</g>
</svg>
</body></html>
